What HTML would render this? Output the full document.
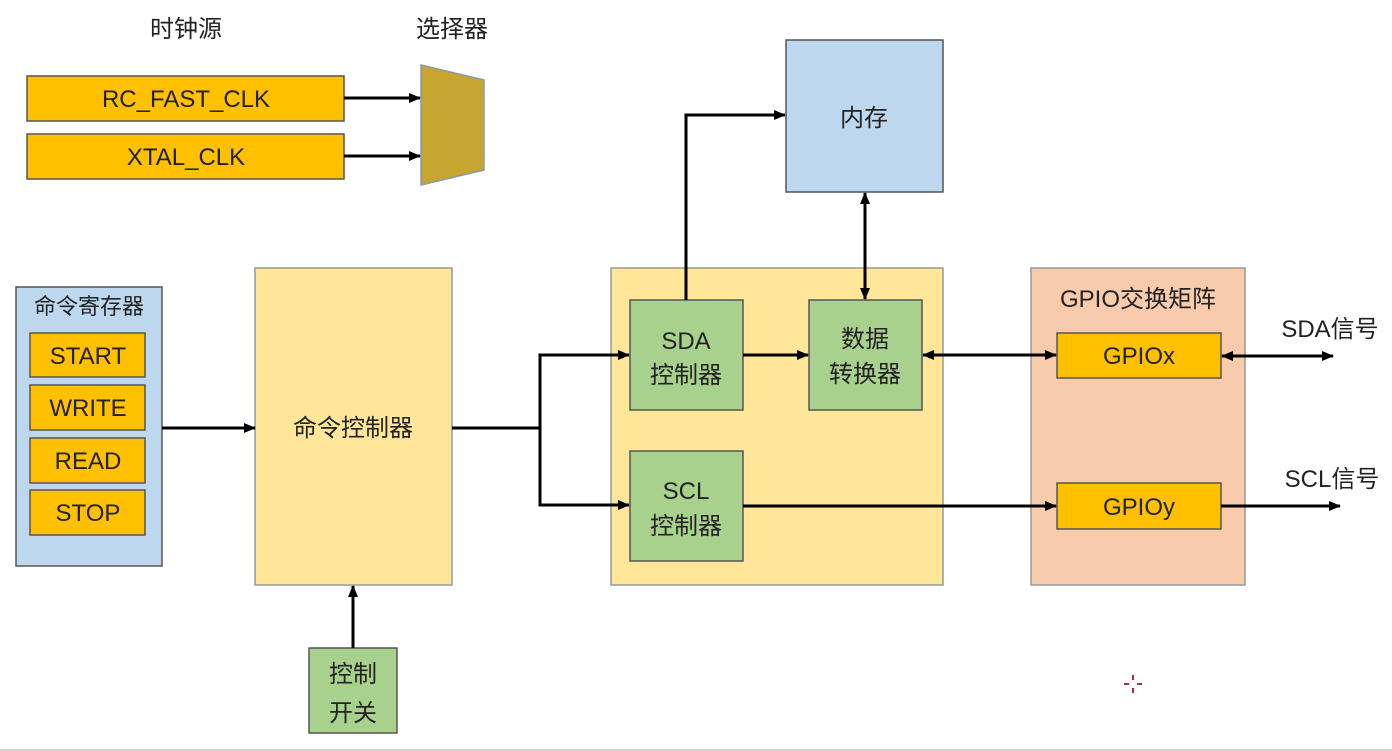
<!DOCTYPE html>
<html><head><meta charset="utf-8"><style>
html,body{margin:0;padding:0;background:#fff;width:1392px;height:751px;overflow:hidden}
svg text{font-family:"Liberation Sans","Noto Sans CJK SC",sans-serif;fill:#222}
</style></head><body>
<svg width="1392" height="751" viewBox="0 0 1392 751" xmlns="http://www.w3.org/2000/svg">
<defs>
<marker id="a" markerWidth="12" markerHeight="10" refX="11" refY="5" orient="auto" markerUnits="userSpaceOnUse"><path d="M0,0 L12,5 L0,10 Z" fill="#000"/></marker>
<marker id="s" markerWidth="12" markerHeight="10" refX="1" refY="5" orient="auto" markerUnits="userSpaceOnUse"><path d="M12,0 L0,5 L12,10 Z" fill="#000"/></marker>
</defs>
<g stroke="#555" stroke-width="1.5">
<rect x="27" y="76" width="317" height="45" fill="#FFC000"/>
<rect x="27" y="134" width="317" height="45" fill="#FFC000"/>
<polygon points="421,65 484,80 484,170 421,185" fill="#C6A630" stroke="#8a9aa8"/>
<rect x="16" y="287" width="146" height="279" fill="#BDD7EE"/>
<rect x="30" y="333" width="115" height="44" fill="#FFC000"/>
<rect x="30" y="385" width="115" height="45" fill="#FFC000"/>
<rect x="30" y="438" width="115" height="45" fill="#FFC000"/>
<rect x="30" y="490" width="115" height="45" fill="#FFC000"/>
<rect x="255" y="268" width="197" height="317" fill="#FFE699" stroke="#999"/>
<rect x="309" y="648" width="88" height="85" fill="#A9D18E"/>
<rect x="611" y="268" width="332" height="317" fill="#FFE699" stroke="#999"/>
<rect x="786" y="40" width="157" height="152" fill="#BDD7EE"/>
<rect x="630" y="300" width="113" height="110" fill="#A9D18E"/>
<rect x="630" y="451" width="113" height="110" fill="#A9D18E"/>
<rect x="809" y="300" width="113" height="110" fill="#A9D18E"/>
<rect x="1031" y="268" width="214" height="317" fill="#F8CBAD" stroke="#999"/>
<rect x="1057" y="333" width="164" height="45" fill="#FFC000"/>
<rect x="1057" y="483" width="164" height="46" fill="#FFC000"/>
</g>
<g stroke="#000" stroke-width="3" fill="none">
<line x1="344" y1="98" x2="420" y2="98" marker-end="url(#a)"/>
<line x1="344" y1="156" x2="420" y2="156" marker-end="url(#a)"/>
<line x1="162" y1="428" x2="255" y2="428" marker-end="url(#a)"/>
<line x1="353" y1="648" x2="353" y2="586" marker-end="url(#a)"/>
<polyline points="452,428 540,428"/>
<polyline points="629,355 540,355 540,505 629,505" marker-end="url(#a)"/>
<line x1="540" y1="355" x2="629" y2="355" marker-end="url(#a)"/>
<polyline points="686,300 686,115 785,115" marker-end="url(#a)"/>
<line x1="865" y1="193" x2="865" y2="299" marker-start="url(#s)" marker-end="url(#a)"/>
<line x1="743" y1="355" x2="808" y2="355" marker-end="url(#a)"/>
<line x1="923" y1="355" x2="1056" y2="355" marker-start="url(#s)" marker-end="url(#a)"/>
<line x1="743" y1="506" x2="1056" y2="506" marker-end="url(#a)"/>
<line x1="1222" y1="356" x2="1333" y2="356" marker-start="url(#s)" marker-end="url(#a)"/>
<line x1="1221" y1="506" x2="1340" y2="506" marker-end="url(#a)"/>
</g>
<g font-size="24" text-anchor="middle">
<text x="186" y="37">时钟源</text>
<text x="452" y="37">选择器</text>
<text x="186" y="107">RC_FAST_CLK</text>
<text x="186" y="165">XTAL_CLK</text>
<text x="89" y="314" font-size="22">命令寄存器</text>
<text x="88" y="364">START</text>
<text x="88" y="416">WRITE</text>
<text x="88" y="469">READ</text>
<text x="88" y="521">STOP</text>
<text x="353" y="436">命令控制器</text>
<text x="353" y="682">控制</text>
<text x="353" y="721">开关</text>
<text x="864" y="126">内存</text>
<text x="686" y="349">SDA</text>
<text x="686" y="383">控制器</text>
<text x="686" y="499">SCL</text>
<text x="686" y="534">控制器</text>
<text x="865" y="347">数据</text>
<text x="865" y="382">转换器</text>
<text x="1138" y="307">GPIO交换矩阵</text>
<text x="1139" y="364">GPIOx</text>
<text x="1139" y="515">GPIOy</text>
<text x="1330" y="337">SDA信号</text>
<text x="1332" y="487">SCL信号</text>
</g>
<g stroke="#a33" stroke-width="2">
<line x1="1124" y1="684" x2="1129" y2="684"/><line x1="1137" y1="684" x2="1142" y2="684"/>
<line x1="1133" y1="675" x2="1133" y2="680"/><line x1="1133" y1="688" x2="1133" y2="693"/>
</g>
<rect x="0" y="749" width="1392" height="2" fill="#d0d0d0"/>
</svg>
</body></html>
